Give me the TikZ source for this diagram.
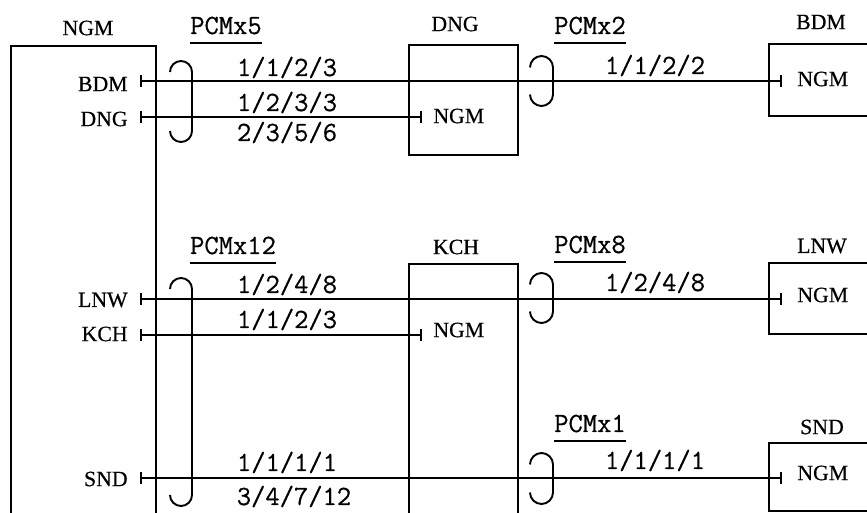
\documentclass[tikz,border=0pt]{standalone}
\usepackage{fontspec}
\usepackage{tikz}
\usetikzlibrary{arrows.meta, calc}

\newfontfamily\labserif[FakeBold=0.5]{Liberation Serif}
\newfontfamily\numtt[FakeBold=0.6]{Latin Modern Mono}
\newcommand{\labfont}{\labserif\fontsize{12.4}{14}\selectfont}
\newcommand{\numfont}{\numtt\fontsize{15.8}{18}\selectfont}

\begin{document}
\begin{tikzpicture}[
  x=0.02cm, y=-0.02cm,
  unitbox/.style={rectangle, draw=black, line width=1.4pt, anchor=north west, inner sep=0pt},
  title/.style={font=\labfont, inner sep=1pt},
  port/.style={font=\labfont, inner sep=0pt},
  rate/.style={font=\numfont, anchor=base, inner sep=0pt},
  pcm/.style={font=\numfont, anchor=base, inner sep=0pt},
  uline/.style={line width=1pt},
  trunk/.style={{Bar[width=7pt]}-{Bar[width=7pt]}, line width=1.1pt},
  clamp/.style={line width=1.1pt}
]
\useasboundingbox (0,0) rectangle (867,513);
\clip (0,0) rectangle (867,513);

% Exchanges
\node[unitbox, minimum width=2.9cm, minimum height=10.3cm] (ngm) at (10,45) {};
\node[unitbox, minimum width=2.18cm, minimum height=2.2cm] (dng) at (408,44) {};
\node[unitbox, minimum width=2.18cm, minimum height=6cm] (kch) at (408,263) {};
\node[unitbox, minimum width=3cm, minimum height=1.44cm] (bdm) at (768,43) {};
\node[unitbox, minimum width=3cm, minimum height=1.42cm] (lnw) at (768,262) {};
\node[unitbox, minimum width=3cm, minimum height=1.36cm] (snd) at (768,442) {};

% Exchange names
\node[title] (ngmT) at (88,28) {NGM};
\node[title] (dngT) at (455,24) {DNG};
\node[title] (kchT) at (456,247) {KCH};
\node[title] (bdmT) at (821,22) {BDM};
\node[title] (lnwT) at (822,246) {LNW};
\node[title] (sndT) at (822,427) {SND};

% Ports in NGM
\node[port, anchor=east] (pBdm) at (128,84) {BDM};
\node[port, anchor=east] (pDng) at (128,119) {DNG};
\node[port, anchor=east] (pLnw) at (128,300) {LNW};
\node[port, anchor=east] (pKch) at (128,334) {KCH};
\node[port, anchor=east] (pSnd) at (128,479) {SND};

% Ports towards NGM
\node[port, anchor=west] (qDng) at (433,116) {NGM};
\node[port, anchor=west] (qKch) at (433,330) {NGM};
\node[port, anchor=west] (qBdm) at (797,79) {NGM};
\node[port, anchor=west] (qLnw) at (797,295) {NGM};
\node[port, anchor=west] (qSnd) at (797,473) {NGM};

% Line ends
\coordinate (bdmA) at (140,81);
\coordinate (bdmB) at (782,81);
\coordinate (dngA) at (140,117);
\coordinate (dngB) at (422,117);
\coordinate (lnwA) at (140,299);
\coordinate (lnwB) at (782,299);
\coordinate (kchA) at (140,335);
\coordinate (kchB) at (422,335);
\coordinate (sndA) at (140,478);
\coordinate (sndB) at (782,478);

% Trunks
\draw[trunk] (bdmA) -- (bdmB);
\draw[trunk] (dngA) -- (dngB);
\draw[trunk] (lnwA) -- (lnwB);
\draw[trunk] (kchA) -- (kchB);
\draw[trunk] (sndA) -- (sndB);

% PCM groups
\draw[clamp] (170,72) arc[start angle=180, end angle=360, radius=11] -- (192,131) arc[start angle=0, end angle=180, radius=11];
\draw[clamp] (530,67.5) arc[start angle=180, end angle=360, radius=11.5] -- (553,94.5) arc[start angle=0, end angle=180, radius=11.5];
\draw[clamp] (170,289) arc[start angle=180, end angle=360, radius=11] -- (192,495) arc[start angle=0, end angle=180, radius=11];
\draw[clamp] (530,284.5) arc[start angle=180, end angle=360, radius=11.5] -- (553,311.5) arc[start angle=0, end angle=180, radius=11.5];
\draw[clamp] (530,464.5) arc[start angle=180, end angle=360, radius=11.5] -- (553,492.5) arc[start angle=0, end angle=180, radius=11.5];

\node[pcm] (p5) at (226,34) {PCMx5};
\node[pcm] (p2) at (590,34) {PCMx2};
\node[pcm] (p12) at (233,254) {PCMx12};
\node[pcm] (p8) at (590,253) {PCMx8};
\node[pcm] (p1) at (590,432) {PCMx1};
\draw[uline] ($(p5.base west)+(0,9)$) -- ($(p5.base east)+(0,9)$);
\draw[uline] ($(p2.base west)+(0,9)$) -- ($(p2.base east)+(0,9)$);
\draw[uline] ($(p12.base west)+(0,9)$) -- ($(p12.base east)+(0,9)$);
\draw[uline] ($(p8.base west)+(0,9)$) -- ($(p8.base east)+(0,9)$);
\draw[uline] ($(p1.base west)+(0,9)$) -- ($(p1.base east)+(0,9)$);

% Channel counts
\node[rate] (r1) at (287,76) {1/1/2/3};
\node[rate] (r2) at (287,111) {1/2/3/3};
\node[rate] (r3) at (287,141) {2/3/5/6};
\node[rate] (r4) at (655,74) {1/1/2/2};
\node[rate] (r5) at (287,293) {1/2/4/8};
\node[rate] (r6) at (287,328) {1/1/2/3};
\node[rate] (r7) at (655,291) {1/2/4/8};
\node[rate] (r8) at (287,471) {1/1/1/1};
\node[rate] (r9) at (294,505) {3/4/7/12};
\node[rate] (r10) at (655,469) {1/1/1/1};

\end{tikzpicture}
\end{document}
